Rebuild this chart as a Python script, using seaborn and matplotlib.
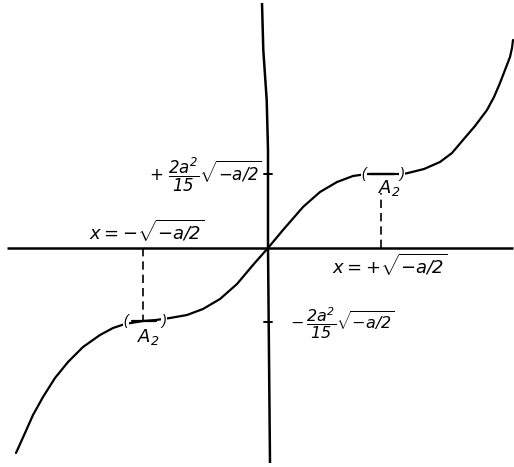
import matplotlib
matplotlib.use("Agg")
import matplotlib.pyplot as plt
import seaborn as sns
import pandas as pd

# Curve y(x) traced as (x, y) pairs; origin at the crossing of the axes,
# units are the drawing units of the sketch (y upward).
curve_x = [-252, -243, -235, -225, -213, -200, -185, -168, -155, -143, -125,
           -112, -98, -81, -65, -48, -31, -15, 0,
           15, 35, 52, 69, 85, 99, 113, 135, 140, 156, 172, 184, 195, 207,
           219, 226, 232, 237, 242, 244, 245]
curve_y = [-205, -185, -167, -149, -130, -114, -99, -87, -80, -76, -73,
           -72, -70, -67, -61, -51, -36, -17, 0,
           18, 41, 56, 66, 72, 74, 74, 74, 75, 79, 86, 95, 108, 122,
           138, 151, 165, 178, 191, 200, 208]

# Points A2 (horizontal inflection) at x = -sqrt(-a/2) and x = +sqrt(-a/2)
a2_x = [-125, 113]
a2_y = [-73, 74]

# Ordinate ticks at -+ 2a^2/15 sqrt(-a/2)
ytick_vals = [-74, 74]

# Slightly leaning ordinate axis, drawn as a polyline
yaxis_x = [-6, -4.7, -1.3, 0, 0, 2]
yaxis_y = [245, 198, 148, 98, 0, -215]
xaxis_x = [-261, 245]

sns.set_theme(style="white")
plt.rcParams["text.color"] = "black"
plt.rcParams["mathtext.fontset"] = "custom"
plt.rcParams["mathtext.rm"] = "DejaVu Sans:italic"
plt.rcParams["mathtext.it"] = "DejaVu Sans:italic"
plt.rcParams["mathtext.bf"] = "DejaVu Sans:bold:italic"

fig = plt.figure(figsize=(5.14, 4.67), dpi=100)
ax = fig.add_axes([0, 0, 1, 1])
ax.set_xlim(-268, 246)
ax.set_ylim(-219, 248)
ax.axis("off")

# axes
ax.plot(xaxis_x, [0, 0], color="black", lw=1.8, solid_capstyle="butt")
ax.plot(yaxis_x, yaxis_y, color="black", lw=1.8, solid_capstyle="butt")

# curve
df = pd.DataFrame({"x": curve_x, "y": curve_y})
sns.lineplot(data=df, x="x", y="y", ax=ax, color="black", lw=1.6,
             estimator=None, sort=False)

# dashed ordinates at A2
ax.plot([a2_x[0], a2_x[0]], [0, a2_y[0]], color="black", lw=1.2,
        dashes=(5, 3))
ax.plot([a2_x[1], a2_x[1]], [0, a2_y[1] - 19], color="black", lw=1.2,
        dashes=(5, 3))

# brackets around the flat part at A2
for xa, ya in zip(a2_x, a2_y):
    for dx, ch in ((-17, "("), (21, ")")):
        ax.text(xa + dx, ya, ch, ha="center", va="center", fontsize=10,
                family="Liberation Sans", style="italic", color="black",
                bbox=dict(facecolor="white", edgecolor="none", pad=0.6))
    ax.plot([xa - 11, xa + 13], [ya, ya], color="black", lw=1.6)

ax.text(a2_x[1] + 8, a2_y[1] - 14, r"$A_2$", ha="center", va="center",
        fontsize=13)
ax.text(a2_x[0] + 5, a2_y[0] - 16, r"$A_2$", ha="center", va="center",
        fontsize=13)

# ticks on the ordinate axis
for yv in ytick_vals:
    ax.plot([-4, 4], [yv, yv], color="black", lw=1.4)

ax.text(-6, ytick_vals[1] - 1, r"$+\ \dfrac{2a^2}{15}\sqrt{-a/2}$", ha="right",
        va="center", fontsize=12)
ax.text(22, ytick_vals[0] - 1, r"$-\,\dfrac{2a^2}{15}\sqrt{-a/2}$", ha="left",
        va="center", fontsize=11.5)

ax.text(-121, 17, r"$x=-\sqrt{-a/2}$", ha="center", va="center", fontsize=13)
ax.text(122, -17, r"$x=+\sqrt{-a/2}$", ha="center", va="center", fontsize=13)

fig.savefig("out.png", dpi=100)
